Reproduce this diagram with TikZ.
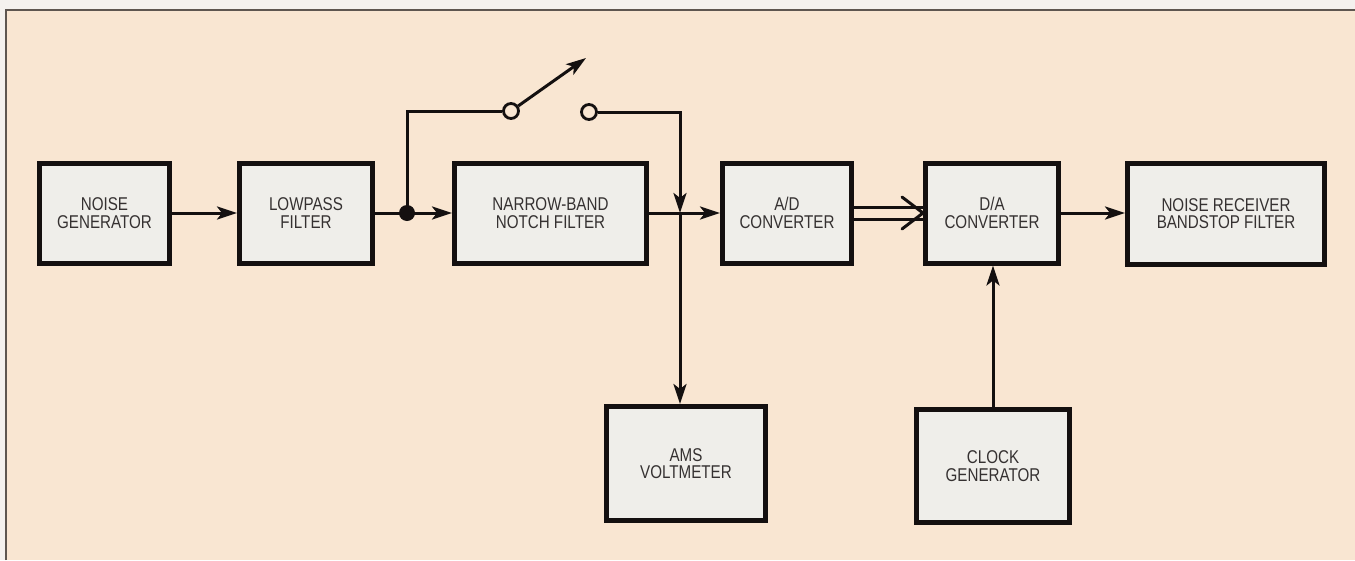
\documentclass[tikz,border=0pt]{standalone}
\usepackage{fontspec}
\setmainfont{Liberation Sans}[FakeStretch=0.82]
\usetikzlibrary{arrows.meta}
\definecolor{paper}{HTML}{F9E6D2}
\definecolor{outside}{HTML}{F4F1EE}
\definecolor{boxfill}{HTML}{EFEEEA}
\definecolor{ink}{HTML}{141010}
\definecolor{txt}{HTML}{353131}
\definecolor{framecol}{HTML}{5E5650}
\begin{document}
\begin{tikzpicture}[x=1pt,y=-1pt,
 block/.style={draw=ink, line width=5pt, fill=boxfill, text=txt, align=center, font=\fontsize{18.5}{17.5}\selectfont, inner sep=0pt},
 conn/.style={draw=ink, line width=3pt},
 arr/.style={conn, -{Stealth[length=20pt,width=13pt,inset=5pt]}},
 swc/.style={circle, draw=ink, line width=2.8pt, fill=paper, minimum size=15pt, inner sep=0pt},
 jdot/.style={circle, fill=ink, minimum size=16pt, inner sep=0pt}
]
\useasboundingbox (0,0) rectangle (1355,560);
\fill[outside] (0,0) rectangle (1355,560);
\fill[paper] (6,10) rectangle (1355,560);
\draw[framecol, line width=2pt] (6,560) -- (6,10) -- (1355,10);

\node[block, minimum width=130pt, minimum height=100pt] (ng) at (104.5,213) {NOISE\\GENERATOR};
\node[block, minimum width=133pt, minimum height=100pt] (lp) at (306,213) {LOWPASS\\FILTER};
\node[block, minimum width=192pt, minimum height=100pt] (nb) at (550.5,213) {NARROW-BAND\\NOTCH FILTER};
\node[block, minimum width=129pt, minimum height=100pt] (ad) at (787,213) {A/D\\CONVERTER};
\node[block, minimum width=133pt, minimum height=100pt] (da) at (992,213) {D/A\\CONVERTER};
\node[block, minimum width=197pt, minimum height=101pt] (rx) at (1226,213.5) {NOISE RECEIVER\\BANDSTOP FILTER};
\node[block, minimum width=159pt, minimum height=114pt] (ams) at (686,463.5) {AMS\\VOLTMETER};
\node[block, minimum width=153pt, minimum height=113pt] (clk) at (993,466) {CLOCK\\GENERATOR};

\coordinate (j) at (407,213);
\coordinate (tap) at (680,213);
\coordinate (armtip) at (586,58);

\node[swc] (s1) at (511,111) {};
\node[swc] (s2) at (589,112) {};

\draw[arr] (ng) -- (lp);
\draw[conn] (lp.east) -- (j);
\draw[arr] (j) -- (nb.west);
\draw[conn] (j) -- (j |- s1) -- (s1);
\draw[arr] (s1.35) -- (armtip);
\draw[arr] (s2) -- (s2 -| tap) -- (tap);
\draw[arr] (tap) -- (tap |- ams.north);
\draw[arr] (nb) -- (ad);
\draw[conn] ([yshift=6pt]ad.east) -- ([yshift=6pt]da.west);
\draw[conn] ([yshift=-6pt]ad.east) -- ([yshift=-6pt]da.west);
\draw[conn, line join=round, line cap=round] ([xshift=-21pt,yshift=16pt]da.west) -- (da.west) -- ([xshift=-21pt,yshift=-16pt]da.west);
\draw[arr] (da) -- (da.east -| rx.west);
\draw[arr] (clk.north) -- (clk.north |- da.south);
\node[jdot] (jd) at (j) {};
\end{tikzpicture}
\end{document}
